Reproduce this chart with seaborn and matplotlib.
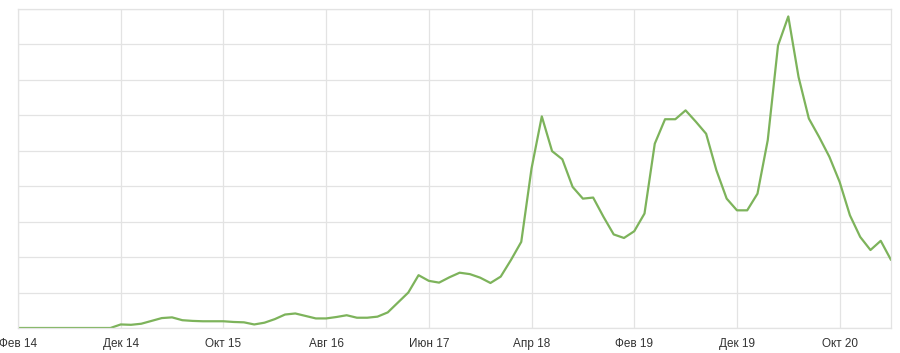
import matplotlib
matplotlib.use("Agg")
import matplotlib.pyplot as plt
import seaborn as sns
import pandas as pd

# Monthly index from Feb 2014 (0) to Mar 2021 (85)
values = [0, 0, 0, 0, 0, 0, 0, 0, 0, 0,
          0.10, 0.09, 0.12, 0.20, 0.28, 0.30, 0.22, 0.20, 0.19, 0.19,
          0.19, 0.17, 0.16, 0.10, 0.15, 0.25, 0.38, 0.41, 0.34, 0.27,
          0.27, 0.31, 0.36, 0.29, 0.29, 0.32, 0.44, 0.72, 1.00, 1.49,
          1.33, 1.28, 1.43, 1.56, 1.52, 1.42, 1.27, 1.45, 1.92, 2.43,
          4.50, 5.97, 4.99, 4.76, 3.98, 3.65, 3.68, 3.14, 2.64, 2.54,
          2.73, 3.23, 5.20, 5.89, 5.89, 6.14, 5.82, 5.48, 4.45, 3.65,
          3.32, 3.32, 3.79, 5.30, 7.97, 8.79, 7.08, 5.91, 5.39, 4.83,
          4.12, 3.18, 2.57, 2.20, 2.46, 1.92]
months = list(range(len(values)))
tick_positions = [0, 10, 20, 30, 40, 50, 60, 70, 80]
tick_labels = ["Фев 14", "Дек 14", "Окт 15", "Авг 16", "Июн 17",
               "Апр 18", "Фев 19", "Дек 19", "Окт 20"]

df = pd.DataFrame({"month": months, "value": values})

sns.set_theme(style="white")
plt.rcParams['font.family'] = ['Liberation Sans', 'DejaVu Sans']

fig = plt.figure(figsize=(9, 3.53), dpi=100)
ax = fig.add_axes([18/900, 25/353, (891-18)/900, (328-9)/353])

sns.lineplot(data=df, x="month", y="value", ax=ax, color="#7db35b", linewidth=1.6)

ax.set_xlim(0, 85)
ax.set_ylim(0, 9)
ax.set_xticks(tick_positions)
ax.set_xticklabels(tick_labels)
ax.set_yticks(range(0, 10))
ax.set_yticklabels([])
ax.grid(True, color="#e3e3e3", linewidth=0.9)
ax.set_axisbelow(True)
for s in ax.spines.values():
    s.set_color("#e3e3e3")
    s.set_linewidth(0.9)
ax.tick_params(axis="x", length=0, pad=7, labelsize=8.5, labelcolor="#333333")
ax.tick_params(axis="y", length=0)
ax.set_xlabel("")
ax.set_ylabel("")

fig.savefig("out.png", dpi=100, facecolor="white")
